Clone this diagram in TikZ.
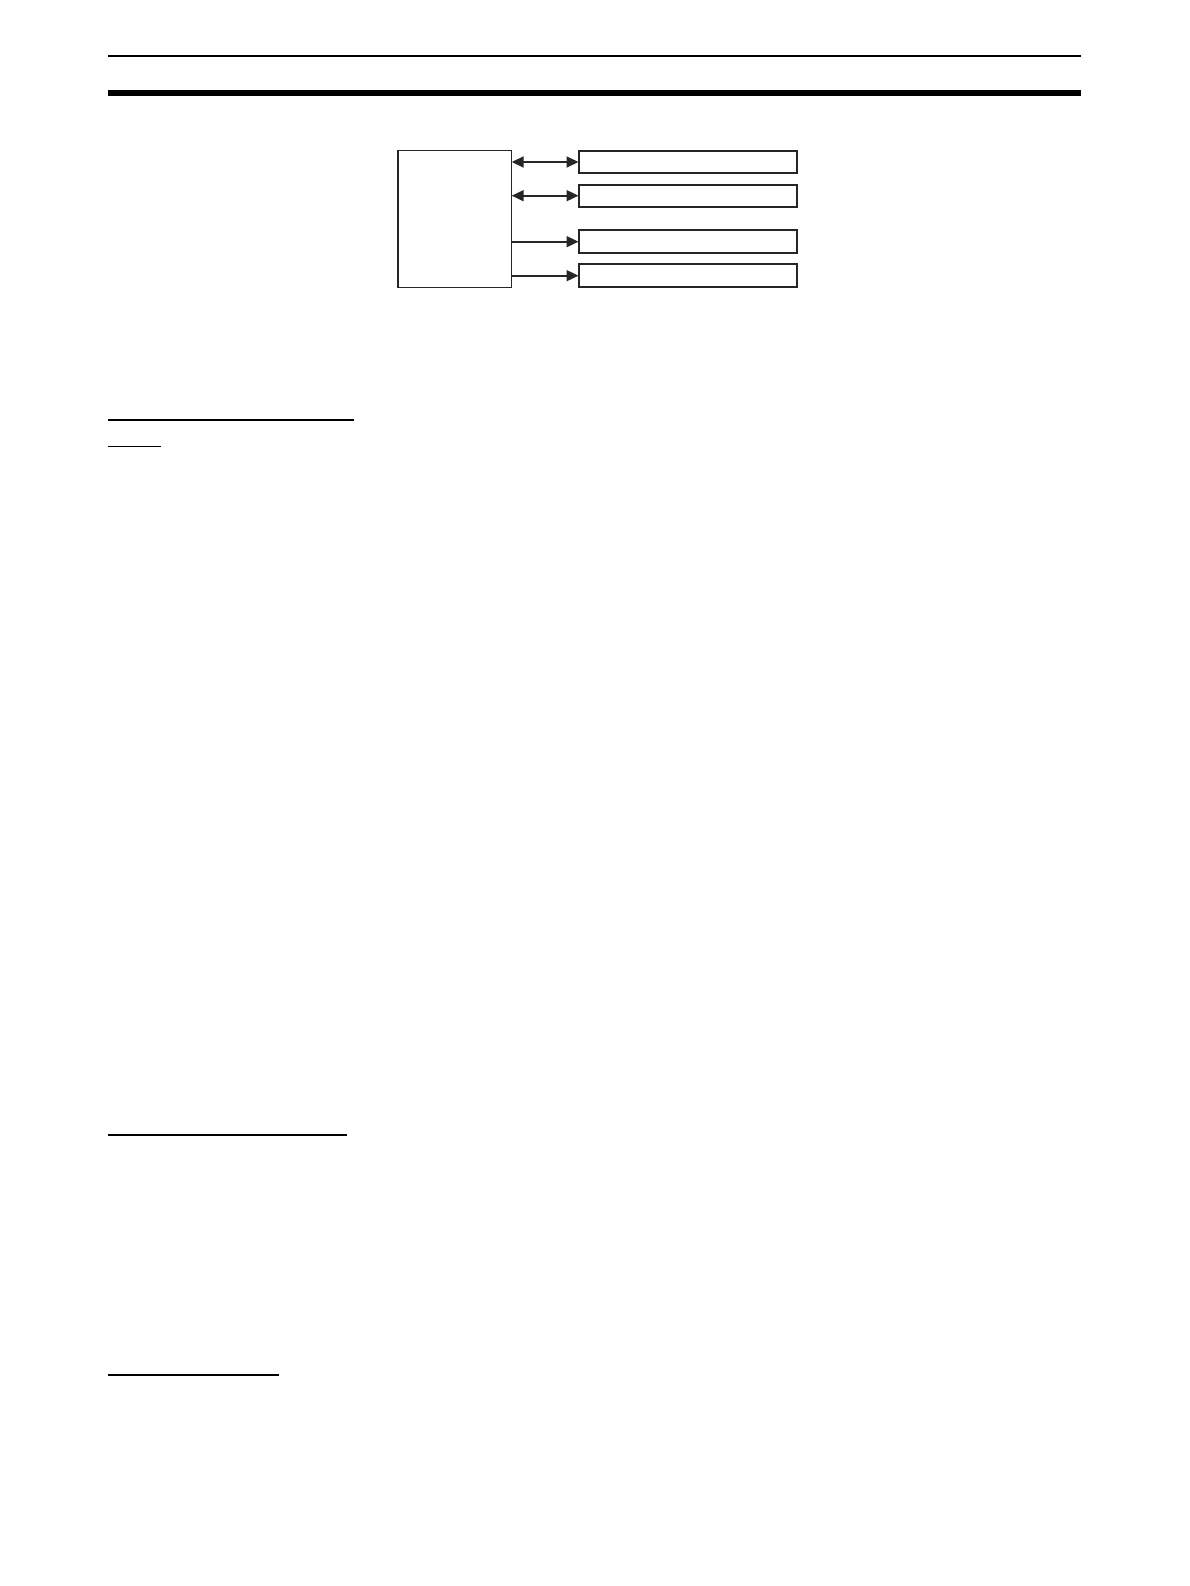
\documentclass[tikz,border=0pt]{standalone}
\usetikzlibrary{arrows.meta}
\begin{document}
\begin{tikzpicture}[x=1pt,y=-1pt,
  hub/.style={draw=black!85,line width=1.3pt},
  unitbox/.style={draw=black!85,line width=1.8pt},
  link/.style={draw=black!85,line width=1.8pt},
  tip/.style={-{Triangle[length=12pt,width=11pt]}},
  bitip/.style={{Triangle[length=12pt,width=11pt]}-{Triangle[length=12pt,width=11pt]}},
  rule/.style={line width=1.2pt}]
\useasboundingbox (0,0) rectangle (1190,1586);
% header rules
\draw[line width=2.2pt] (108,56) -- (1081,56);
\draw[line width=6pt] (108,93) -- (1081,93);
% hub box
\draw[hub] (398,150.7) rectangle (511.7,287.3);
\coordinate (hubE1) at (511.7,162);
\coordinate (hubE2) at (511.7,195.7);
\coordinate (hubE3) at (511.7,241.7);
\coordinate (hubE4) at (511.7,275.7);
% right boxes
\draw[unitbox] (579.3,150.7) rectangle (796.7,173.3);
\draw[unitbox] (579.3,185) rectangle (796.7,207.3);
\draw[unitbox] (579.3,230.3) rectangle (796.7,253);
\draw[unitbox] (579.3,264.3) rectangle (796.7,286.7);
\coordinate (u1) at (578.5,162);
\coordinate (u2) at (578.5,195.7);
\coordinate (u3) at (578.5,241.7);
\coordinate (u4) at (578.5,275.7);
% connectors
\draw[link,bitip] (hubE1) -- (u1);
\draw[link,bitip] (hubE2) -- (u2);
\draw[link,tip] (hubE3) -- (u3);
\draw[link,tip] (hubE4) -- (u4);
% underlines
\draw[rule] (108,420) -- (354,420);
\draw[rule] (108,446.3) -- (161,446.3);
\draw[rule] (108,1135) -- (346.7,1135);
\draw[rule] (108,1375) -- (279,1375);
\end{tikzpicture}
\end{document}
